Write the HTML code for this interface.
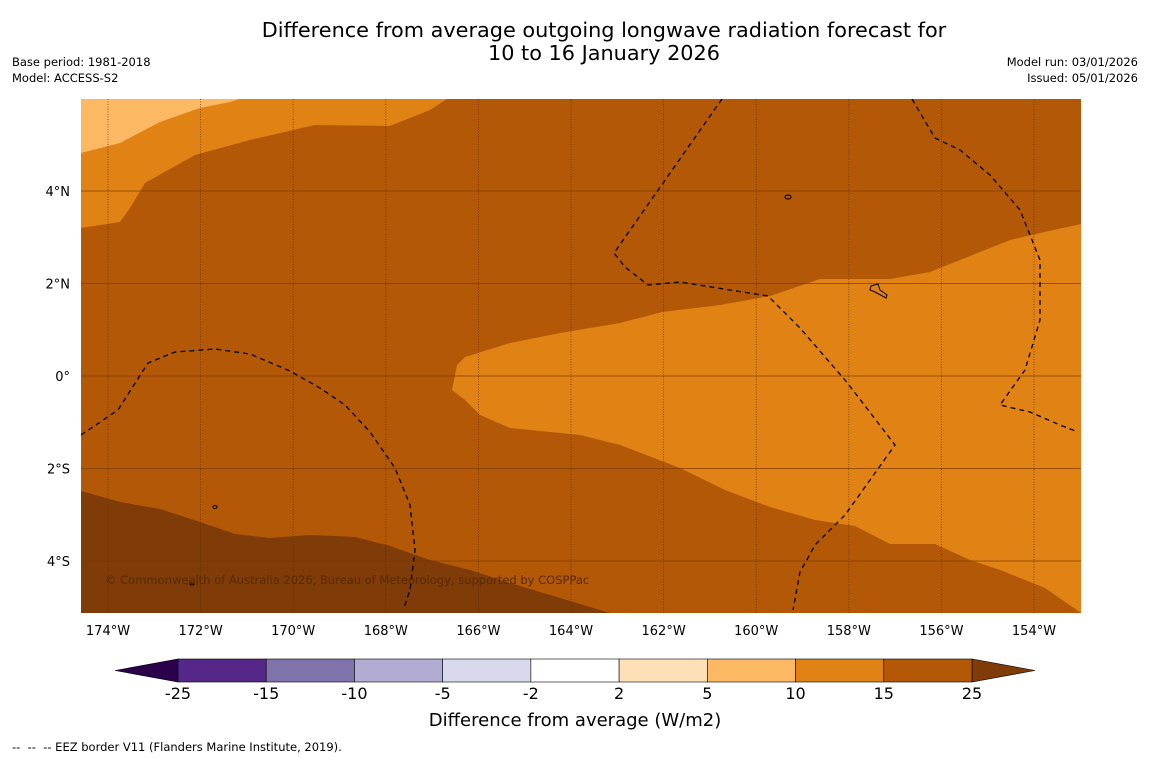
<!DOCTYPE html>
<html><head><meta charset="utf-8"><style>
body{margin:0;background:#fff;font-family:"DejaVu Sans","Liberation Sans",sans-serif;}
#wrap{position:relative;width:1150px;height:758px;overflow:hidden;background:#fff}
.t{position:absolute;font-size:11.5px;color:#000;line-height:16px}
</style></head><body>
<div id="wrap">
<div style="position:absolute;left:0;width:1208px;top:19px;text-align:center;font-size:20.8px;line-height:23px;font-family:'DejaVu Sans',sans-serif">Difference from average outgoing longwave radiation forecast for<br>10 to 16 January 2026</div>
<div class="t" style="left:12px;top:54px">Base period: 1981-2018<br>Model: ACCESS-S2</div>
<div class="t" style="right:12px;top:54px;text-align:right">Model run: 03/01/2026<br>Issued: 05/01/2026</div>
<svg id="svg" width="1150" height="758" style="position:absolute;left:0;top:0;font-family:'DejaVu Sans',sans-serif">
<defs><clipPath id="mc"><rect x="81" y="99" width="1000" height="514"/></clipPath></defs>
<g clip-path="url(#mc)">
<rect x="81" y="99" width="1000" height="514" fill="#b35806"/>
<polygon fill="#e08214" points="81,99 447,99 430,110 390,126 315,125 250,140 195,155 145,183 130,208 120,222 81,228"/>
<polygon fill="#fdb863" points="81,99 240,99 230,102 200,108 160,122 120,143 81,153"/>
<polygon fill="#e08214" points="1081,224 1040,233 1010,240 965,258 930,272 890,279 820,279 770,296 720,305 662,312 620,323 560,333 510,343 465,357 457,365 452,390 465,400 480,415 510,428 580,435 620,445 680,468 725,490 770,507 815,520 855,526 890,544 935,544 970,560 1000,570 1045,588 1081,613"/>
<polygon fill="#7f3b08" points="81,491 120,502 160,509 200,522 235,534 270,538 310,535 355,537 390,546 430,560 470,570 510,583 560,598 610,613 81,613"/>
<g id="grid"></g>
<g fill="none" stroke="#000" stroke-width="1.3" stroke-dasharray="5,4">
<polyline points="81,435 118,410 148,363 175,352 215,349 250,354 290,371 320,388 345,405 370,432 395,468 410,505 415,550 410,590 404,608"/>
<polyline points="722,99 614,253 625,267 648,285 680,282 730,290 768,296 800,328 845,380 872,415 895,445 870,480 845,515 815,545 800,572 793,610"/>
<polyline points="912,99 935,138 960,150 990,175 1020,210 1040,260 1040,320 1025,370 1000,405 1030,412 1060,425 1078,432"/>
</g>
<g fill="none" stroke="#000" stroke-width="1">
<ellipse cx="788" cy="197" rx="3" ry="2"/><path d="M871,286 L878,284 L880,290 L887,295 L886,298 L875,292 L870,290Z"/>
<ellipse cx="215" cy="507" rx="2" ry="1.5"/><ellipse cx="192" cy="584" rx="2" ry="1"/>
</g>
<text x="105" y="584" font-size="11.5" fill="#5a2a00">© Commonwealth of Australia 2026, Bureau of Meteorology, supported by COSPPac</text>
</g>
<g id="axes" font-size="13" fill="#000"></g>
<g id="cbar"></g>
<text x="575" y="726" text-anchor="middle" font-size="18">Difference from average (W/m2)</text>
<text x="12" y="751" font-size="11.5" style="white-space:pre" xml:space="preserve">--  --  -- EEZ border V11 (Flanders Marine Institute, 2019).</text>
</svg>
</div>
<script>
const lonTicks=[-174,-172,-170,-168,-166,-164,-162,-160,-158,-156,-154];
const latTicks=[4,2,0,-2,-4];
const cbarBounds=[-25,-15,-10,-5,-2,2,5,10,15,25];
const cbarColors=['#542788','#8073ac','#b2abd2','#d8daeb','#ffffff','#fee0b6','#fdb863','#e08214','#b35806'];
const ns='http://www.w3.org/2000/svg';
const xLon=l=>108+(l+174)*46.3;
const yLat=v=>376-v*46.25;
function mk(t,a,p){const e=document.createElementNS(ns,t);for(const k in a)e.setAttribute(k,a[k]);p.appendChild(e);return e;}
const grid=document.getElementById('grid'),axes=document.getElementById('axes');
lonTicks.forEach(l=>{const x=xLon(l);
const ln=mk('line',{x1:x,x2:x,y1:99,y2:613,stroke:'#5a2a00','stroke-width':0.8,'stroke-dasharray':'1,1.5','stroke-opacity':0.8},grid);


const t=mk('text',{x:x,y:635,'text-anchor':'middle'},axes);t.textContent=Math.abs(l)+'°W';

});
latTicks.forEach(v=>{const y=yLat(v);
const ln=mk('line',{x1:81,x2:1081,y1:y,y2:y,stroke:'#7a3a00','stroke-width':1,'stroke-opacity':0.7},grid);


const t=mk('text',{x:70,y:y+5,'text-anchor':'end'},axes);t.textContent=v===0?'0°':Math.abs(v)+'°'+(v>0?'N':'S');

});
const cb=document.getElementById('cbar');const x0=178,w=(972-178)/cbarColors.length,y0=659,h=23;
const lt=mk('polygon',{points:`115,670.5 ${x0},${y0} ${x0},${y0+h}`,fill:'#2d004b',stroke:'#000','stroke-width':0.6},cb);


const rt=mk('polygon',{points:`1035,670.5 972,${y0} 972,${y0+h}`,fill:'#7f3b08',stroke:'#000','stroke-width':0.6},cb);


cbarColors.forEach((c,i)=>{const r=mk('rect',{x:x0+i*w,y:y0,width:w,height:h,fill:c,stroke:'#000','stroke-width':0.6},cb);

});
cbarBounds.forEach((b,i)=>{const t=mk('text',{x:x0+i*w,y:699,'text-anchor':'middle','font-size':16},cb);t.textContent=b;

});
</script>
</body></html>
